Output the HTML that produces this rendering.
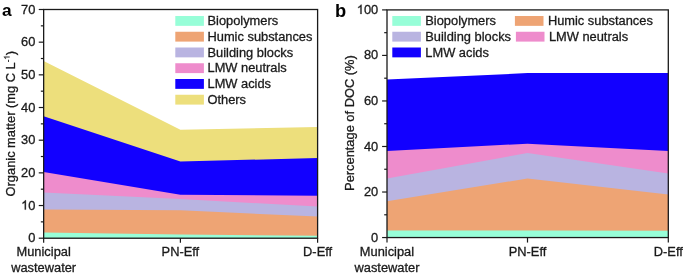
<!DOCTYPE html>
<html><head><meta charset="utf-8"><style>
html,body{margin:0;padding:0;background:#fff;}
svg{display:block;will-change:transform;}
text{font-family:"Liberation Sans", sans-serif;}
</style></head><body>
<svg width="685" height="277" viewBox="0 0 685 277">
<rect width="685" height="277" fill="#fff"/>
<g><path d="M43.65,61.00 L180.40,129.70 L317.60,127.00 L317.60,238.20 L43.65,238.20 Z" fill="#eddf7c"/>
<path d="M43.65,116.30 L180.40,161.60 L317.60,158.00 L317.60,238.20 L43.65,238.20 Z" fill="#1200ff"/>
<path d="M43.65,172.00 L180.40,194.70 L317.60,195.70 L317.60,238.20 L43.65,238.20 Z" fill="#ee8ccc"/>
<path d="M43.65,192.40 L180.40,199.10 L317.60,206.50 L317.60,238.20 L43.65,238.20 Z" fill="#b9b4e1"/>
<path d="M43.65,209.50 L180.40,210.30 L317.60,216.50 L317.60,238.20 L43.65,238.20 Z" fill="#eea474"/>
<path d="M43.65,232.60 L180.40,234.60 L317.60,235.70 L317.60,238.20 L43.65,238.20 Z" fill="#97fed8"/></g>
<g><path d="M387.00,79.60 L527.50,73.10 L668.30,73.00 L668.30,237.55 L387.00,237.55 Z" fill="#1200ff"/>
<path d="M387.00,150.90 L527.50,143.70 L668.30,150.90 L668.30,237.55 L387.00,237.55 Z" fill="#ee8ccc"/>
<path d="M387.00,178.40 L527.50,153.10 L668.30,173.40 L668.30,237.55 L387.00,237.55 Z" fill="#b9b4e1"/>
<path d="M387.00,201.30 L527.50,178.50 L668.30,194.50 L668.30,237.55 L387.00,237.55 Z" fill="#eea474"/>
<path d="M387.00,230.50 L527.50,230.50 L668.30,230.70 L668.30,237.55 L387.00,237.55 Z" fill="#97fed8"/></g>
<g><rect x="175.30" y="16.00" width="28.6" height="9.85" fill="#97fed8"/>
<rect x="175.30" y="31.75" width="28.6" height="9.85" fill="#eea474"/>
<rect x="175.30" y="47.50" width="28.6" height="9.85" fill="#b9b4e1"/>
<rect x="175.30" y="63.25" width="28.6" height="9.85" fill="#ee8ccc"/>
<rect x="175.30" y="79.00" width="28.6" height="9.85" fill="#1200ff"/>
<rect x="175.30" y="94.75" width="28.6" height="9.85" fill="#eddf7c"/><rect x="392.30" y="16.00" width="28.6" height="9.85" fill="#97fed8"/>
<rect x="392.30" y="31.75" width="28.6" height="9.85" fill="#b9b4e1"/>
<rect x="392.30" y="47.50" width="28.6" height="9.85" fill="#1200ff"/><rect x="514.90" y="16.00" width="28.6" height="9.85" fill="#eea474"/>
<rect x="515.90" y="31.75" width="28.6" height="9.85" fill="#ee8ccc"/></g>
<g stroke="#1a1a1a" stroke-width="1.3" fill="none">
<rect x="43.65" y="9.50" width="273.95" height="228.70" fill="none" stroke="#1a1a1a" stroke-width="1.3"/>
<rect x="387.00" y="9.90" width="281.30" height="227.65" fill="none" stroke="#1a1a1a" stroke-width="1.3"/>
</g>
<g stroke="#1a1a1a" stroke-width="1.2">
<line x1="38.75" y1="238.20" x2="43.65" y2="238.20"/>
<line x1="40.85" y1="221.86" x2="43.65" y2="221.86"/>
<line x1="38.75" y1="205.53" x2="43.65" y2="205.53"/>
<line x1="40.85" y1="189.19" x2="43.65" y2="189.19"/>
<line x1="38.75" y1="172.86" x2="43.65" y2="172.86"/>
<line x1="40.85" y1="156.52" x2="43.65" y2="156.52"/>
<line x1="38.75" y1="140.19" x2="43.65" y2="140.19"/>
<line x1="40.85" y1="123.85" x2="43.65" y2="123.85"/>
<line x1="38.75" y1="107.51" x2="43.65" y2="107.51"/>
<line x1="40.85" y1="91.18" x2="43.65" y2="91.18"/>
<line x1="38.75" y1="74.84" x2="43.65" y2="74.84"/>
<line x1="40.85" y1="58.51" x2="43.65" y2="58.51"/>
<line x1="38.75" y1="42.17" x2="43.65" y2="42.17"/>
<line x1="40.85" y1="25.84" x2="43.65" y2="25.84"/>
<line x1="38.75" y1="9.50" x2="43.65" y2="9.50"/>
<line x1="382.10" y1="237.55" x2="387.00" y2="237.55"/>
<line x1="384.20" y1="214.79" x2="387.00" y2="214.79"/>
<line x1="382.10" y1="192.02" x2="387.00" y2="192.02"/>
<line x1="384.20" y1="169.25" x2="387.00" y2="169.25"/>
<line x1="382.10" y1="146.49" x2="387.00" y2="146.49"/>
<line x1="384.20" y1="123.73" x2="387.00" y2="123.73"/>
<line x1="382.10" y1="100.96" x2="387.00" y2="100.96"/>
<line x1="384.20" y1="78.20" x2="387.00" y2="78.20"/>
<line x1="382.10" y1="55.43" x2="387.00" y2="55.43"/>
<line x1="384.20" y1="32.67" x2="387.00" y2="32.67"/>
<line x1="382.10" y1="9.90" x2="387.00" y2="9.90"/>
<line x1="43.65" y1="238.20" x2="43.65" y2="242.80"/>
<line x1="180.40" y1="238.20" x2="180.40" y2="242.80"/>
<line x1="317.60" y1="238.20" x2="317.60" y2="242.80"/>
<line x1="387.00" y1="237.55" x2="387.00" y2="242.55"/>
<line x1="527.50" y1="237.55" x2="527.50" y2="242.55"/>
<line x1="668.30" y1="237.55" x2="668.30" y2="242.55"/>
</g>
<g font-family="Liberation Sans, sans-serif" font-size="12.85" fill="#1a1a1a" stroke="#1a1a1a" stroke-width="0.3">
<text x="28.26" y="242.25">0</text><path transform="translate(21.111,209.579) scale(0.006274,-0.006274)" d="M763 0L583 0L583 1147C540 1106 483 1065 413 1024C343 983 280 952 224 931L224 1105C325 1152 413 1210 488 1278C563 1346 616 1412 647 1476L763 1476Z" vector-effect="non-scaling-stroke"/><text x="28.26" y="209.58">0</text><text x="21.11" y="176.91">2</text><text x="28.26" y="176.91">0</text><text x="21.11" y="144.24">3</text><text x="28.26" y="144.24">0</text><text x="21.11" y="111.56">4</text><text x="28.26" y="111.56">0</text><text x="21.11" y="78.89">5</text><text x="28.26" y="78.89">0</text><text x="21.11" y="46.22">6</text><text x="28.26" y="46.22">0</text><text x="21.11" y="13.55">7</text><text x="28.26" y="13.55">0</text><text x="371.06" y="241.60">0</text><text x="363.91" y="196.07">2</text><text x="371.06" y="196.07">0</text><text x="363.91" y="150.54">4</text><text x="371.06" y="150.54">0</text><text x="363.91" y="105.01">6</text><text x="371.06" y="105.01">0</text><text x="363.91" y="59.48">8</text><text x="371.06" y="59.48">0</text><path transform="translate(356.766,13.950) scale(0.006274,-0.006274)" d="M763 0L583 0L583 1147C540 1106 483 1065 413 1024C343 983 280 952 224 931L224 1105C325 1152 413 1210 488 1278C563 1346 616 1412 647 1476L763 1476Z" vector-effect="non-scaling-stroke"/><text x="363.91" y="13.95">0</text><text x="371.06" y="13.95">0</text>
<text x="43.65" y="255.8" text-anchor="middle">Municipal</text><text x="43.65" y="271.6" text-anchor="middle">wastewater</text><text x="180.40" y="255.8" text-anchor="middle">PN-Eff</text><text x="317.60" y="255.8" text-anchor="middle">D-Eff</text>
<text x="387.00" y="255.8" text-anchor="middle">Municipal</text><text x="387.00" y="271.6" text-anchor="middle">wastewater</text><text x="527.50" y="255.8" text-anchor="middle">PN-Eff</text><text x="668.30" y="255.8" text-anchor="middle">D-Eff</text>
<text x="207.50" y="25.20">Biopolymers</text>
<text x="207.50" y="40.95">Humic substances</text>
<text x="207.50" y="56.70">Building blocks</text>
<text x="207.50" y="72.45">LMW neutrals</text>
<text x="207.50" y="88.20">LMW acids</text>
<text x="207.50" y="103.95">Others</text>
<text x="425.30" y="25.20">Biopolymers</text>
<text x="425.30" y="40.95">Building blocks</text>
<text x="425.30" y="56.70">LMW acids</text>
<text x="547.90" y="25.20">Humic substances</text>
<text x="548.90" y="40.95">LMW neutrals</text>
<g transform="translate(15.0,123.7) rotate(-90)"><text x="-72.73" y="0">Organic matter (mg C L</text><text x="61.52" y="-5.5" font-size="7.8">-</text><path transform="translate(64.115,-5.500) scale(0.003809,-0.003809)" d="M763 0L583 0L583 1147C540 1106 483 1065 413 1024C343 983 280 952 224 931L224 1105C325 1152 413 1210 488 1278C563 1346 616 1412 647 1476L763 1476Z" vector-effect="non-scaling-stroke"/><text x="68.45" y="0">)</text></g>
<text transform="translate(354.1,123.1) rotate(-90)" text-anchor="middle">Percentage of DOC (%)</text>
</g>
<g font-family="Liberation Sans, sans-serif" font-size="17.3" font-weight="bold" fill="#000">
<text x="1.9" y="16.4">a</text>
<text x="334.9" y="16.5" font-size="18.3">b</text>
</g>
</svg>
</body></html>
